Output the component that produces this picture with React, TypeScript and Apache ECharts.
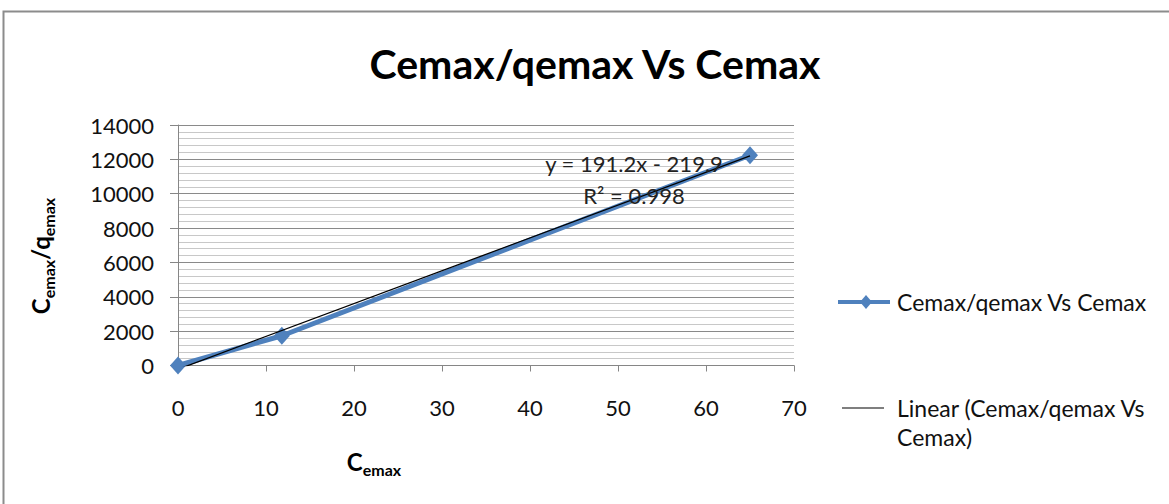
import React, { useEffect, useRef } from "react";
import * as echarts from "echarts";

const xValues: number[] = [0, 11.8, 65.0];
const yValues: number[] = [0, 1733, 12238];
const trendSlope = 191.2;
const trendIntercept = -219.9;
const seriesName = "Cemax/qemax Vs Cemax";
const trendName = "Linear (Cemax/qemax Vs Cemax)";
const titleText = "Cemax/qemax Vs Cemax";
const equationText = "y = 191.2x - 219.9";
const r2Text = "R² = 0.998";
const xMin = 0, xMax = 70, xInterval = 10;
const yMin = 0, yMax = 14000, yInterval = 2000;

const FONT = "Lato";
const BLUE = "#4F81BD";

export default function App() {
  const ref = useRef<HTMLDivElement>(null);
  useEffect(() => {
    if (!ref.current) return;
    const chart = echarts.init(ref.current, null, { renderer: "svg" });
    const points = xValues.map((x, i) => [x, yValues[i]]);
    const tx0 = xValues[0];
    const tx1 = xValues[xValues.length - 1];
    const trend = [
      [tx0, trendSlope * tx0 + trendIntercept],
      [tx1, trendSlope * tx1 + trendIntercept],
    ];
    const richAxisName = {
      b: { fontSize: 24, fontWeight: "bold", fontFamily: FONT, color: "#000", lineHeight: 28, verticalAlign: "middle" },
      s: { fontSize: 16, fontWeight: "bold", fontFamily: FONT, color: "#000", lineHeight: 12, padding: [16, 0, 0, 0], verticalAlign: "middle" },
    };
    chart.setOption({
      animation: false,
      backgroundColor: "#fff",
      title: {
        text: titleText,
        left: 590,
        top: 38,
        textAlign: "center",
        textStyle: { fontSize: 41, fontWeight: "bold", fontFamily: FONT, color: "#000" },
      },
      grid: { left: 178, right: 375, top: 125, bottom: 138.5, containLabel: false },
      xAxis: {
        type: "value",
        min: xMin,
        max: xMax,
        interval: xInterval,
        axisLine: { show: true, onZero: false, lineStyle: { color: "#868686", width: 1 } },
        axisTick: { show: true, length: 6, lineStyle: { color: "#868686" } },
        axisLabel: { margin: 31, fontSize: 22, fontFamily: FONT, color: "#111" },
        splitLine: { show: false },
      },
      yAxis: {
        type: "value",
        min: yMin,
        max: yMax,
        interval: yInterval,
        axisLine: { show: true, lineStyle: { color: "#868686", width: 1 } },
        axisTick: { show: true, length: 8, lineStyle: { color: "#868686" } },
        axisLabel: {
          margin: 24,
          fontSize: 22,
          fontFamily: FONT,
          color: "#111",
          formatter: (v: number) => String(v),
        },
        splitLine: { show: true, lineStyle: { color: "#8a8a8a", width: 1 } },
        minorTick: { show: false, splitNumber: 5 },
        minorSplitLine: { show: true, lineStyle: { color: "#c8c8c8", width: 1.2 } },
      },
      series: [
        {
          name: seriesName,
          type: "line",
          data: points,
          symbol: "diamond",
          symbolSize: [16, 18],
          lineStyle: { color: BLUE, width: 5 },
          itemStyle: { color: BLUE },
          z: 2,
        },
        {
          name: trendName,
          type: "line",
          data: trend,
          symbol: "none",
          clip: true,
          lineStyle: { color: "#000", width: 1.3 },
          z: 3,
        },
      ],
      graphic: [
        {
          type: "rect",
          shape: { x: 3.5, y: 11.5, width: 1180, height: 520 },
          style: { fill: "none", stroke: "#8c8c8c", lineWidth: 2 },
          silent: true,
        },
        {
          type: "text",
          x: 634,
          y: 163,
          style: { text: equationText, align: "center", verticalAlign: "middle", fontSize: 22, fontFamily: FONT, fill: "#222" },
          z: 10,
        },
        {
          type: "text",
          x: 634,
          y: 195,
          style: { text: r2Text, align: "center", verticalAlign: "middle", fontSize: 22, fontFamily: FONT, fill: "#222" },
          z: 10,
        },
        {
          type: "text",
          x: 40,
          y: 256,
          rotation: Math.PI / 2,
          style: {
            text: "{b|C}{s|emax}{b|/q}{s|emax}",
            rich: richAxisName,
            align: "center",
            verticalAlign: "middle",
          },
        },
        {
          type: "text",
          x: 374,
          y: 461,
          style: {
            text: "{b|C}{s|emax}",
            rich: richAxisName,
            align: "center",
            verticalAlign: "middle",
          },
        },
        {
          type: "line",
          shape: { x1: 838, y1: 302, x2: 890, y2: 302 },
          style: { stroke: BLUE, lineWidth: 4 },
        },
        {
          type: "polygon",
          shape: { points: [[866, 295], [872, 302], [866, 309], [860, 302]] },
          style: { fill: BLUE },
        },
        {
          type: "text",
          x: 897,
          y: 302,
          style: { text: seriesName, align: "left", verticalAlign: "middle", fontSize: 23, fontFamily: FONT, fill: "#111" },
        },
        {
          type: "line",
          shape: { x1: 842, y1: 408, x2: 884, y2: 408 },
          style: { stroke: "#000", lineWidth: 1.2 },
        },
        {
          type: "text",
          x: 897,
          y: 408,
          style: { text: "Linear (Cemax/qemax Vs", align: "left", verticalAlign: "middle", fontSize: 23, fontFamily: FONT, fill: "#111" },
        },
        {
          type: "text",
          x: 897,
          y: 437,
          style: { text: "Cemax)", align: "left", verticalAlign: "middle", fontSize: 23, fontFamily: FONT, fill: "#111" },
        },
      ],
    });
    return () => chart.dispose();
  }, []);
  return (
    <div
      ref={ref}
      style={{ position: "fixed", left: 0, top: 0, width: 1169, height: 504, background: "#fff" }}
    />
  );
}
